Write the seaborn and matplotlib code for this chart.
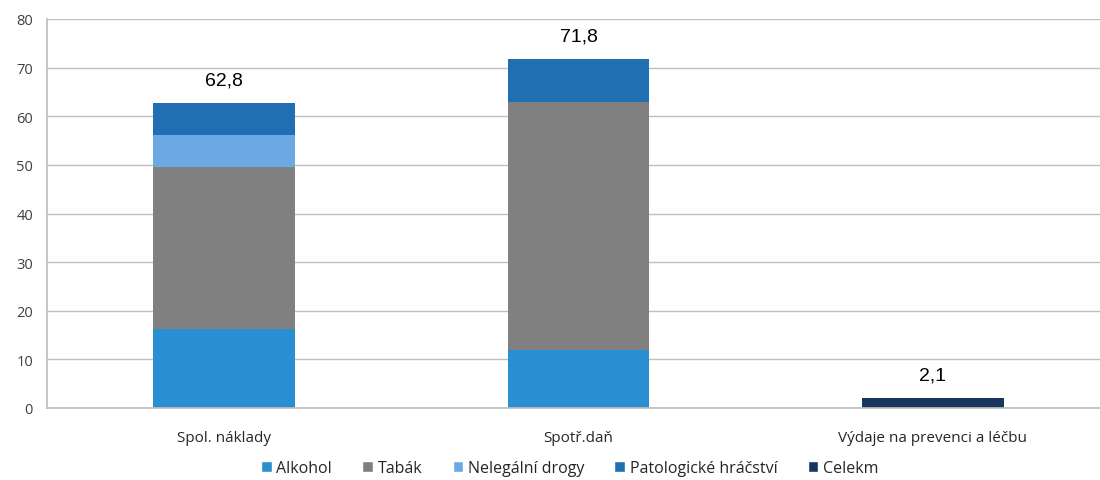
import matplotlib.pyplot as plt
import seaborn as sns
import numpy as np
import pandas as pd
from matplotlib.patches import Patch

sns.set_theme(style='white')
plt.rcParams['font.family'] = ['Open Sans', 'DejaVu Sans']

# Data (bn CZK)
categories = ['Spol. náklady', 'Spotř.daň', 'Výdaje na prevenci a léčbu']
alkohol = [16.3, 11.9, 0.0]
tabak = [33.2, 51.0, 0.0]
drogy = [6.6, 0.0, 0.0]
hracstvi = [6.7, 8.9, 0.0]
celekm = [0.0, 0.0, 2.1]

series_names = ['Alkohol', 'Tabák', 'Nelegální drogy', 'Patologické hráčství', 'Celekm']
COLORS = {
    'Alkohol': '#2a8fd0',
    'Tabák': '#808080',
    'Nelegální drogy': '#6ca8e4',
    'Patologické hráčství': '#1f6fb2',
    'Celekm': '#17375e',
}

df = pd.DataFrame({'cat': categories, 'Alkohol': alkohol, 'Tabák': tabak,
                   'Nelegální drogy': drogy, 'Patologické hráčství': hracstvi,
                   'Celekm': celekm})
stack = ['Alkohol', 'Tabák', 'Nelegální drogy', 'Patologické hráčství', 'Celekm']
cum = df[stack].cumsum(axis=1)
totals = df[stack].sum(axis=1)

fig = plt.figure(figsize=(11, 4.81), dpi=100)
ax = fig.add_axes([47 / 1100, (481 - 409) / 481, 1 - 47 / 1100, 389 / 481])

# layered cumulative bars, tallest first
for name in reversed(stack):
    sns.barplot(x=df['cat'], y=cum[name], order=categories, color=COLORS[name],
                saturation=1, width=0.4, linewidth=0, ax=ax)

for i, t in enumerate(totals):
    ax.annotate(f'{t:.1f}'.replace('.', ','), (i, t), xytext=(0, 10),
                textcoords='offset points', ha='center', va='bottom',
                fontsize=14, color='black', family=['Liberation Sans', 'DejaVu Sans'])

ax.set_ylim(0, 80)
ax.set_xlim(-0.5, 2.472)
ax.set_yticks(np.arange(0, 81, 10))
ax.yaxis.grid(True, color='#bfbfbf', linewidth=1)
ax.set_axisbelow(True)
ax.set_xlabel('')
ax.set_ylabel('')
for s in ['top', 'right']:
    ax.spines[s].set_visible(False)
ax.spines['left'].set_color('#bfbfbf')
ax.spines['bottom'].set_color('#bfbfbf')
ax.tick_params(axis='y', length=5, color='#bfbfbf', labelsize=10.5, labelcolor='#404040', pad=5)
ax.tick_params(axis='x', which='major', length=0, labelsize=11, labelcolor='#262626', pad=16)
ax.set_xticks([-0.5, 0.5, 1.5], minor=True)
ax.tick_params(axis='x', which='minor', length=6, color='#bfbfbf')

handles = [Patch(facecolor=COLORS[n], label=n) for n in series_names]
fig.legend(handles=handles, loc='center', bbox_to_anchor=(0.518, 0.025), ncol=5,
           frameon=False, fontsize=11.5, handlelength=0.65, handleheight=0.65,
           handletextpad=0.3, columnspacing=1.9, labelcolor='#262626',
           borderpad=0.2)

fig.savefig('out.png', dpi=100)
